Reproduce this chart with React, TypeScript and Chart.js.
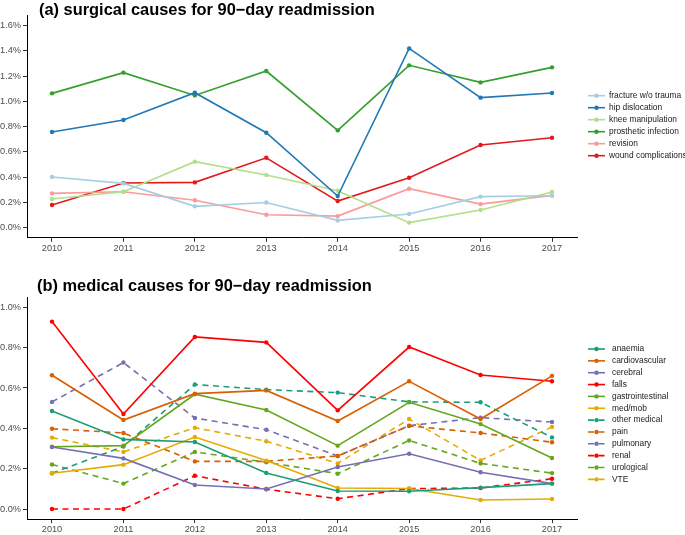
import React, { useEffect, useRef } from "react";
import { Chart, registerables } from "chart.js";
Chart.register(...registerables);

const FAMILY = '"Liberation Sans", Arial, Helvetica, sans-serif';

const years = [2010, 2011, 2012, 2013, 2014, 2015, 2016, 2017];

// (a) surgical causes, % of patients
const surgicalLabels = ["fracture w/o trauma", "hip dislocation", "knee manipulation", "prosthetic infection", "revision", "wound complications"];
const fractureWoTrauma = [0.401, 0.351, 0.169, 0.2, 0.058, 0.108, 0.246, 0.253];
const hipDislocation = [0.758, 0.853, 1.069, 0.752, 0.251, 1.42, 1.03, 1.067];
const kneeManipulation = [0.227, 0.285, 0.523, 0.417, 0.293, 0.04, 0.14, 0.283];
const prostheticInfection = [1.064, 1.228, 1.048, 1.241, 0.771, 1.286, 1.151, 1.27];
const revision = [0.272, 0.285, 0.217, 0.103, 0.092, 0.309, 0.187, 0.256];
const woundComplications = [0.18, 0.354, 0.359, 0.554, 0.211, 0.396, 0.655, 0.713];
const surgicalColors = ["#A6CEE3", "#1F78B4", "#B2DF8A", "#33A02C", "#FB9A99", "#E31A1C"];

// (b) medical causes, % of patients
const medicalLabels = ["anaemia", "cardiovascular", "cerebral", "falls", "gastrointestinal", "med/mob", "other medical", "pain", "pulmonary", "renal", "urological", "VTE"];
const anaemia = [0.486, 0.345, 0.332, 0.179, 0.089, 0.088, 0.106, 0.126];
const cardiovascular = [0.663, 0.441, 0.572, 0.588, 0.436, 0.633, 0.446, 0.66];
const cerebral = [0.307, 0.251, 0.119, 0.099, 0.208, 0.274, 0.182, 0.126];
const falls = [0.929, 0.471, 0.853, 0.826, 0.489, 0.803, 0.664, 0.633];
const gastrointestinal = [0.309, 0.314, 0.569, 0.491, 0.314, 0.529, 0.421, 0.253];
const medMob = [0.177, 0.22, 0.357, 0.24, 0.104, 0.102, 0.045, 0.05];
const otherMedical = [0.177, 0.31, 0.617, 0.592, 0.577, 0.531, 0.529, 0.355];
const pain = [0.398, 0.377, 0.236, 0.236, 0.263, 0.412, 0.377, 0.331];
const pulmonary = [0.531, 0.726, 0.451, 0.393, 0.263, 0.413, 0.453, 0.431];
const renal = [0, 0, 0.165, 0.098, 0.051, 0.101, 0.104, 0.15];
const urological = [0.221, 0.126, 0.283, 0.232, 0.175, 0.34, 0.226, 0.178];
const vte = [0.354, 0.283, 0.403, 0.336, 0.226, 0.446, 0.241, 0.407];
const medicalColors = ["#1B9E77", "#D95F02", "#7570B3", "#FF0000", "#66A61E", "#E6AB02", "#1B9E77", "#D95F02", "#7570B3", "#FF0000", "#66A61E", "#E6AB02"];
const medicalDashed = [false, false, false, false, false, false, true, true, true, true, true, true];

const surgicalTicks = [0, 0.2, 0.4, 0.6, 0.8, 1.0, 1.2, 1.4, 1.6];
const medicalTicks = [0, 0.2, 0.4, 0.6, 0.8, 1.0];

const DASH = [6, 4.5];

function makeDatasets(labels: string[], series: number[][], colors: string[], dashed: boolean[]) {
  return labels.map((label, i) => ({
    label,
    data: series[i].map((v, j) => ({ x: years[j], y: v })),
    borderColor: colors[i],
    backgroundColor: colors[i],
    pointBackgroundColor: colors[i],
    borderDash: dashed[i] ? DASH : [],
    borderWidth: 1.6,
    pointRadius: 2.2,
    pointBorderWidth: 0,
    tension: 0,
    fill: false,
  }));
}

function makeDecor(title: string, titleX: number, titleY: number, legendX: number, legendY: number, rowH: number, textX: number) {
  return {
    id: "decor",
    afterDraw(chart: any) {
      const ctx = chart.ctx;
      ctx.save();
      ctx.fillStyle = "#000";
      ctx.font = `bold 16.4px ${FAMILY}`;
      ctx.textAlign = "left";
      ctx.textBaseline = "alphabetic";
      ctx.fillText(title, titleX, titleY);
      chart.data.datasets.forEach((ds: any, i: number) => {
        const y = legendY + i * rowH;
        ctx.strokeStyle = ds.borderColor;
        ctx.lineWidth = 1.6;
        ctx.setLineDash(ds.borderDash || []);
        ctx.beginPath();
        ctx.moveTo(legendX, y);
        ctx.lineTo(legendX + 17, y);
        ctx.stroke();
        ctx.setLineDash([]);
        ctx.fillStyle = ds.borderColor;
        ctx.beginPath();
        ctx.arc(legendX + 8.5, y, 2.2, 0, Math.PI * 2);
        ctx.fill();
        ctx.fillStyle = "#1A1A1A";
        ctx.font = `8.4px ${FAMILY}`;
        ctx.textBaseline = "middle";
        ctx.fillText(ds.label, textX, y);
      });
      ctx.restore();
    },
  };
}

function makeOptions(yMin: number, yMax: number, yTicks: number[], padTop: number, padBottom: number) {
  const axisGrid = { display: true, drawOnChartArea: false, drawTicks: true, tickLength: 4, color: "#333333", lineWidth: 1 };
  const axisBorder = { display: true, color: "#000000", width: 1 };
  const tickFont = { size: 9.2, family: FAMILY };
  return {
    responsive: false,
    animation: false,
    layout: { padding: { left: 0, right: 108, top: padTop, bottom: padBottom } },
    plugins: { legend: { display: false }, tooltip: { enabled: false }, title: { display: false } },
    scales: {
      x: {
        type: "linear",
        min: 2009.65,
        max: 2017.35,
        afterBuildTicks: (s: any) => {
          s.ticks = years.map((v) => ({ value: v }));
        },
        afterFit: (s: any) => {
          s.height = 14;
        },
        ticks: { callback: (v: any) => String(v), color: "#4D4D4D", font: tickFont, padding: 1, maxRotation: 0, autoSkip: false },
        grid: axisGrid,
        border: axisBorder,
      },
      y: {
        type: "linear",
        min: yMin,
        max: yMax,
        afterBuildTicks: (s: any) => {
          s.ticks = yTicks.map((v) => ({ value: v }));
        },
        afterFit: (s: any) => {
          s.width = 27;
        },
        ticks: { callback: (v: any) => Number(v).toFixed(1) + "%", color: "#4D4D4D", font: tickFont, padding: 2 },
        grid: axisGrid,
        border: axisBorder,
      },
    },
  };
}

export default function App() {
  const refA = useRef<HTMLCanvasElement>(null);
  const refB = useRef<HTMLCanvasElement>(null);

  useEffect(() => {
    const chartA = new Chart(refA.current as HTMLCanvasElement, {
      type: "line",
      data: {
        datasets: makeDatasets(
          surgicalLabels,
          [fractureWoTrauma, hipDislocation, kneeManipulation, prostheticInfection, revision, woundComplications],
          surgicalColors,
          surgicalLabels.map(() => false)
        ),
      },
      options: makeOptions(-0.08, 1.68, surgicalTicks, 15.6, 8.2) as any,
      plugins: [makeDecor("(a) surgical causes for 90\u2212day readmission", 39, 14.5, 588, 95.7, 12, 609)],
    });
    const chartB = new Chart(refB.current as HTMLCanvasElement, {
      type: "line",
      data: {
        datasets: makeDatasets(
          medicalLabels,
          [anaemia, cardiovascular, cerebral, falls, gastrointestinal, medMob, otherMedical, pain, pulmonary, renal, urological, vte],
          medicalColors,
          medicalDashed
        ),
      },
      options: makeOptions(-0.05, 1.05, medicalTicks, 35.2, 1.9) as any,
      plugins: [makeDecor("(b) medical causes for 90\u2212day readmission", 37, 28.5, 588, 87, 11.85, 612)],
    });
    return () => {
      chartA.destroy();
      chartB.destroy();
    };
  }, []);

  return (
    <div style={{ position: "absolute", left: 0, top: 0, width: 685, height: 535, background: "#fff" }}>
      <canvas ref={refA} width={685} height={260} style={{ position: "absolute", left: 0, top: 0, display: "block" }} />
      <canvas ref={refB} width={685} height={273} style={{ position: "absolute", left: 0, top: 262, display: "block" }} />
    </div>
  );
}
